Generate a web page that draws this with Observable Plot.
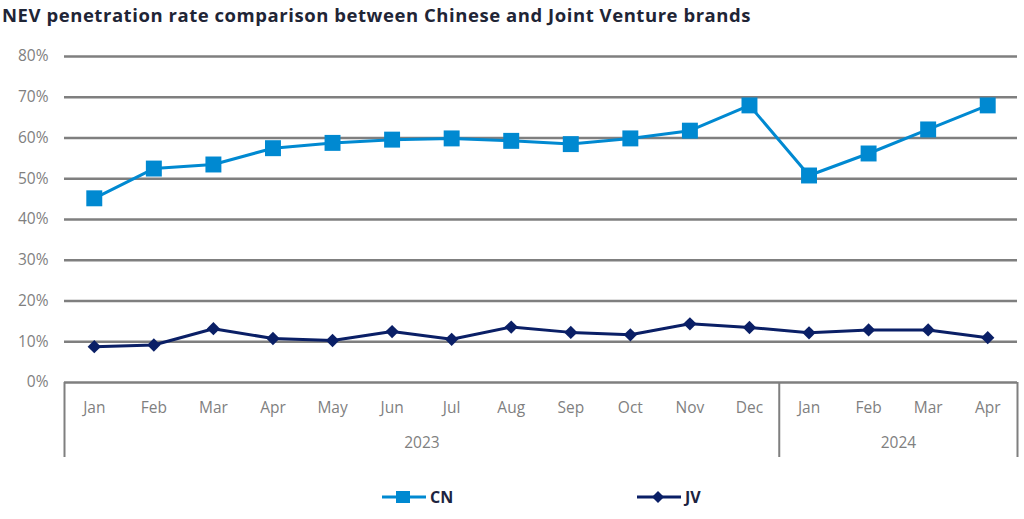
<!DOCTYPE html>
<html>
<head>
<meta charset="utf-8">
<script src="https://cdn.jsdelivr.net/npm/d3@7"></script>
<script src="https://cdn.jsdelivr.net/npm/@observablehq/plot@0.6"></script>
<style>
  body { margin: 0; background: #fff; font-family: "Open Sans", sans-serif; }
  #title { height: 32px; line-height: 29px; padding-left: 2px; font-weight: 700; font-size: 18.5px; letter-spacing: 0.55px; color: #1f2536; white-space: nowrap; }
  #legend { position: relative; height: 47px; }
  .lg { position: absolute; top: 14px; display: flex; align-items: center; font-weight: 700; font-size: 16px; color: #1c2340; }
  .lg svg { margin-right: 3px; }
</style>
</head>
<body>
<div id="title">NEV penetration rate comparison between Chinese and Joint Venture brands</div>
<div id="chart"></div>
<div id="legend">
  <div class="lg" style="left:381px"><svg width="46" height="18"><line x1="1" y1="9" x2="45" y2="9" stroke="#0089d1" stroke-width="3"/><rect x="15" y="3" width="14" height="12" fill="#0089d1"/></svg>CN</div>
  <div class="lg" style="left:636px"><svg width="46" height="18"><line x1="1" y1="9" x2="45" y2="9" stroke="#0a1f66" stroke-width="3"/><path d="M22 3 L28 9 L22 15 L16 9 Z" fill="#0a1f66"/></svg>JV</div>
</div>
<script>
const months = ["Jan","Feb","Mar","Apr","May","Jun","Jul","Aug","Sep","Oct","Nov","Dec","Jan","Feb","Mar","Apr"];
const years = ["2023","2023","2023","2023","2023","2023","2023","2023","2023","2023","2023","2023","2024","2024","2024","2024"];
const cnValues = [0.452,0.525,0.535,0.575,0.588,0.596,0.599,0.593,0.585,0.599,0.618,0.680,0.508,0.562,0.621,0.680];
const jvValues = [0.088,0.092,0.132,0.108,0.103,0.125,0.106,0.136,0.123,0.117,0.144,0.135,0.122,0.129,0.129,0.110];
const yTicks = [0,0.1,0.2,0.3,0.4,0.5,0.6,0.7,0.8];

const cn = months.map((m,i)=>({i, v: cnValues[i]}));
const jv = months.map((m,i)=>({i, v: jvValues[i]}));
const monthLabels = months.map((m,i)=>({i, m}));

// year groups
const yearGroups = [];
years.forEach((y,i)=>{
  const g = yearGroups.find(d=>d.year===y);
  if (g) g.end = i; else yearGroups.push({year:y, start:i, end:i});
});
const yearLabels = yearGroups.map(g=>({x:(g.start+g.end)/2, year:g.year}));
const boundaries = [-0.5, ...yearGroups.map(g=>g.end+0.5)];

const gray = "#7f7f7f";
const chart = Plot.plot({
  width: 1024,
  height: 440,
  marginLeft: 64,
  marginRight: 7,
  marginTop: 24,
  marginBottom: 90,
  style: {fontFamily: "Open Sans, sans-serif", background: "#fff"},
  x: {domain: [-0.5, months.length - 0.5], axis: null},
  y: {domain: [0, 0.8], axis: null},
  marks: [
    Plot.ruleY(yTicks, {stroke: gray, strokeWidth: 2.5}),
    Plot.text(yTicks, {x: -0.5, y: d=>d, text: d=>d3.format(".0%")(d), textAnchor: "end", dx: -16, fill: gray, fontSize: 15.5}),
    Plot.ruleX(boundaries, {y1: 0, y2: 0, stroke: gray, strokeWidth: 2, insetBottom: -75}),
    Plot.text(monthLabels, {x: "i", y: 0, text: "m", dy: 26, fill: gray, fontSize: 15.5}),
    Plot.text(yearLabels, {x: "x", y: 0, text: "year", dy: 61, fill: gray, fontSize: 15.5}),
    Plot.line(cn, {x: "i", y: "v", stroke: "#0089d1", strokeWidth: 3}),
    Plot.dot(cn, {x: "i", y: "v", symbol: "square", r: 9, fill: "#0089d1"}),
    Plot.line(jv, {x: "i", y: "v", stroke: "#0a1f66", strokeWidth: 3}),
    Plot.dot(jv, {x: "i", y: "v", symbol: "diamond2", r: 6, fill: "#0a1f66"})
  ]
});
document.getElementById("chart").appendChild(chart);
</script>
</body>
</html>
